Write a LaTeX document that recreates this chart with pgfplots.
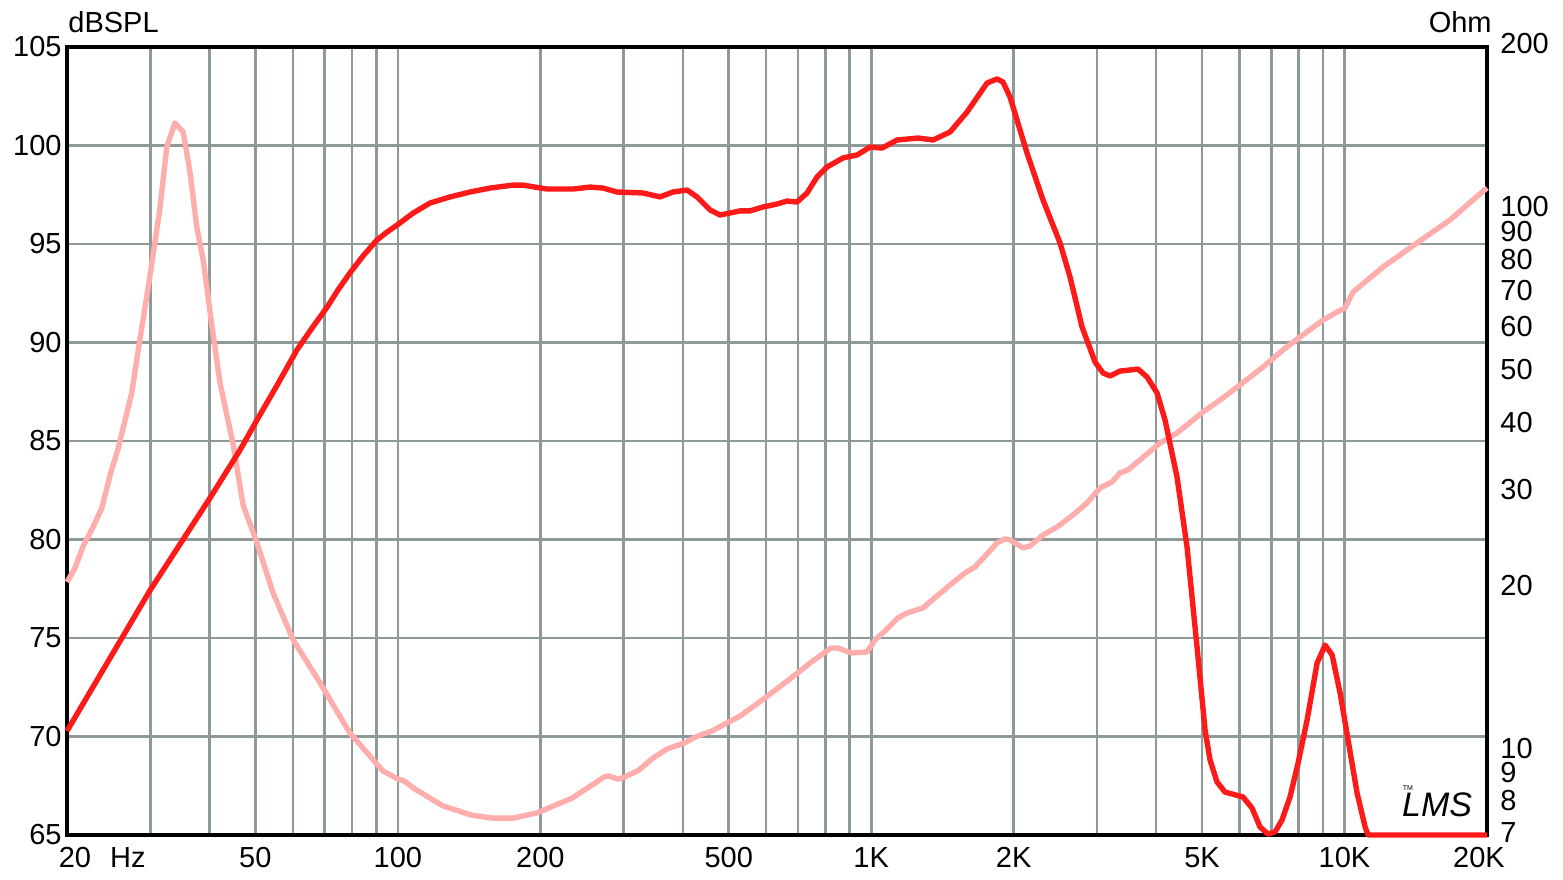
\documentclass[border=0pt]{standalone}
\usepackage{pgfplots}
\pgfplotsset{compat=1.18}
\usepackage{fontspec}
\setmainfont{Liberation Sans}
\definecolor{spl}{RGB}{255,26,26}
\definecolor{imp}{RGB}{255,173,173}
\definecolor{gridc}{RGB}{142,154,151}
\begin{document}
\begin{tikzpicture}
% impedance axis (right)
\begin{axis}[set layers,
  scale only axis, width=710pt, height=394pt,
  at={(0,0)}, anchor=south west,
  xmode=log, xmin=20, xmax=20000, clip=false,
  tick style={draw=none}, major tick length=0pt, minor tick length=0pt,
  ticklabel style={font=\fontsize{14.5}{16}\selectfont, inner sep=0pt},
  axis x line=none, axis y line*=right,
  axis line style={draw=none},
  ymode=log, ymin=7, ymax=200,
  ytick={7,8,9,10,20,30,40,50,60,70,80,90,100,200},
  yticklabels={7,8,9,10,20,30,40,50,60,70,80,90,100,200},
  yticklabel style={anchor=west, xshift=6.5pt, text height=0.7em, text depth=0pt},
]
\addplot[imp, line width=2.7pt, line join=round] coordinates {
(20,20.54) (20.8,21.80) (21.6,23.84) (22.7,25.95) (23.7,28.14) (24.7,32.53) (25.6,36.02) (27.4,45.90) (28.5,57.50) (29.7,72.05) (31.4,99.97) (32.5,130.7) (33.8,144.8) (35.2,139.3) (36.4,117.1) (37.6,93.0) (38.8,80.8) (40.5,60.8) (42.1,47.9) (44.9,36.79) (47.1,28.50) (50.4,24.25) (54.5,19.60) (60.1,16.05) (68.5,13.37) (79.2,10.80) (93.0,9.19) (100.1,8.88) (103.0,8.81) (108.7,8.51) (124.6,7.92) (142.8,7.62) (158.1,7.52) (175.1,7.52) (196.8,7.69) (233.4,8.19) (260.9,8.73) (272.6,8.96) (279.3,9.00) (291.8,8.88) (301.9,8.96) (323.3,9.23) (346.0,9.71) (370.3,10.09) (402.2,10.35) (430.7,10.67) (461.1,10.90) (528.3,11.61) (596.6,12.54) (648.1,13.25) (707.4,14.06) (742.7,14.55) (783.5,15.05) (822.6,15.51) (851.2,15.51) (906.6,15.18) (980.0,15.25) (1018.9,16.05) (1059,16.54) (1139,17.63) (1190,18.00) (1287,18.39) (1331,18.87) (1468,20.28) (1578,21.34) (1657,21.89) (1845,24.25) (1918,24.67) (1965,24.56) (2093,23.74) (2166,23.94) (2307,25.09) (2470,25.95) (2670,27.32) (2858,28.75) (3044,30.64) (3227,31.43) (3355,32.67) (3489,33.09) (3698,34.53) (4076,37.10) (4427,38.72) (5024,42.33) (5458,44.55) (6014,47.49) (6727,51.26) (7414,55.12) (8056,58.24) (9010,62.60) (9645,64.77) (10024,65.88) (10425,70.54) (12061,78.44) (14226,86.90) (16707,95.82) (19526,107.9) (20000,109.8)
};
\end{axis}
% SPL axis (left)
\begin{axis}[set layers,
  scale only axis, width=710pt, height=394pt,
  at={(0,0)}, anchor=south west,
  xmode=log, xmin=20, xmax=20000, clip=false,
  tick style={draw=none}, major tick length=0pt, minor tick length=0pt,
  ticklabel style={font=\fontsize{14.5}{16}\selectfont, inner sep=0pt},
  ymin=65, ymax=105, ytick={65,70,75,80,85,90,95,100,105},
  yticklabels={65,70,75,80,85,90,95,100,105},
  xtick={20,50,100,200,500,1000,2000,5000,10000,20000},
  xticklabels={\hspace*{8pt}20,50,100,200,500,1K,2K,5K,10K,20K\hspace*{8pt}},
  minor xtick={30,40,60,70,80,90,300,400,600,700,800,900,3000,4000,6000,7000,8000,9000},
  xmajorgrids, xminorgrids, ymajorgrids,
  grid style={gridc, line width=1.3pt},
  minor grid style={gridc, line width=1.3pt},
  axis line style={line width=2pt, black},
  xticklabel style={anchor=north, yshift=-6pt},
  yticklabel style={anchor=east, xshift=-2.5pt},
]
\addplot[spl, line width=2.7pt, line join=round] coordinates {
(20,70.28) (29.9,77.39) (40.1,82.11) (46.4,84.54) (50.4,86.07) (55.6,87.84) (61.2,89.62) (65.9,90.74) (70.9,91.80) (74.7,92.66) (79.2,93.53) (84.4,94.39) (90.3,95.20) (94.9,95.61) (99.6,95.96) (107.7,96.57) (116.9,97.08) (128.9,97.39) (142.1,97.64) (156.6,97.84) (175.1,97.99) (183.8,97.99) (206.6,97.79) (234.5,97.79) (254.7,97.89) (271.3,97.84) (290.4,97.64) (329.6,97.59) (358.0,97.39) (381.3,97.64) (408.2,97.74) (428.6,97.39) (456.7,96.73) (479.4,96.47) (528.3,96.68) (554.6,96.68) (590.8,96.88) (632.5,97.03) (664.0,97.18) (697.2,97.13) (731.9,97.59) (768.4,98.40) (806.8,98.91) (872.2,99.37) (933.7,99.52) (994.4,99.92) (1054,99.87) (1134,100.28) (1256,100.38) (1351,100.28) (1468,100.69) (1594,101.70) (1757,103.17) (1845,103.38) (1899,103.22) (1965,102.46) (2134,99.62) (2307,97.23) (2506,95.05) (2631,93.32) (2789,90.79) (2971,89.01) (3089,88.45) (3196,88.30) (3355,88.55) (3662,88.65) (3826,88.25) (4017,87.44) (4176,86.07) (4427,83.17) (4648,79.62) (4880,74.54) (5074,70.33) (5198,68.81) (5378,67.69) (5592,67.18) (6103,66.93) (6376,66.37) (6629,65.41) (6892,65.05) (7131,65.15) (7378,65.76) (7672,66.93) (7978,68.65) (8335,70.84) (8751,73.73) (9098,74.64) (9413,74.14) (9786,72.21) (10175,69.82) (10630,67.13) (11052,65.41) (11215,65.0) (20000,65.0)
};
\node[anchor=south west, inner sep=0pt, font=\fontsize{14.5}{16}\selectfont, xshift=0.5pt, yshift=7pt] at (rel axis cs:0,1) {dBSPL};
\node[anchor=south east, inner sep=0pt, font=\fontsize{14.5}{16}\selectfont, xshift=2.5pt, yshift=7pt] at (rel axis cs:1,1) {Ohm};
\node[anchor=north, inner sep=0pt, font=\fontsize{14.5}{16}\selectfont, yshift=-6pt] at (axis cs:26.9,65) {Hz};
\node[inner sep=0pt, font=\fontsize{17}{17}\selectfont\itshape] at (axis cs:15690,66.52) {LMS};
\node[inner sep=0pt, font=\fontsize{3.5}{4}\selectfont] at (axis cs:13618,67.39) {TM};
\end{axis}
\pgfresetboundingbox
\path[use as bounding box] (-33.5pt,-22pt) rectangle (748pt,417.5pt);
\end{tikzpicture}
\end{document}
